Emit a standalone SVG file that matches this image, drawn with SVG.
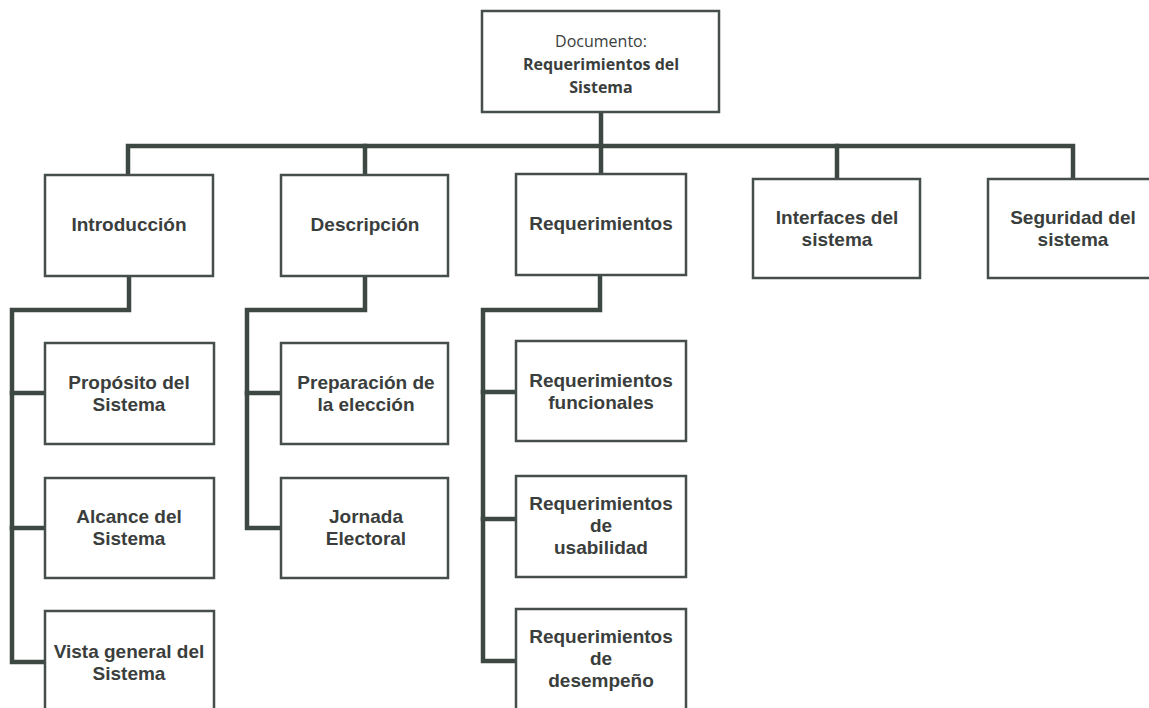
<svg xmlns="http://www.w3.org/2000/svg" width="1149" height="708" viewBox="0 0 1149 708">
<style>
.box{fill:#fff;stroke:#454e4a;stroke-width:2.5}
.con{fill:none;stroke:#3e4843;stroke-width:4.5;stroke-linejoin:miter;stroke-linecap:square}
.t{font-family:"Liberation Sans",Arial,sans-serif;font-weight:bold;font-size:19px;fill:#3a3e3c;text-anchor:middle}
.d{font-family:"Open Sans","Noto Sans",sans-serif;font-size:16px;fill:#3a3e3c;text-anchor:middle}
.db{font-weight:bold}
</style>
<rect width="1149" height="708" fill="#fff"/>
<g id="connectors">
<path class="con" d="M601 112 V174"/>
<path class="con" d="M128 175 V146 H1073 V179"/>
<path class="con" d="M365 146 V175"/>
<path class="con" d="M837 146 V179"/>
<path class="con" d="M129 276 V310 H12 V662 H45"/>
<path class="con" d="M12 393 H45 M12 528 H45"/>
<path class="con" d="M365 276 V310 H247 V528 H281"/>
<path class="con" d="M247 393 H281"/>
<path class="con" d="M600 275 V310 H483 V661 H516"/>
<path class="con" d="M483 392 H516 M483 519 H516"/>
</g>
<g id="root">
<rect class="box" x="482" y="11" width="237" height="101"/>
<text class="d" x="601" y="47">Documento:</text>
<text class="d db" x="601" y="70">Requerimientos del</text>
<text class="d db" x="601" y="93">Sistema</text>
</g>
<g id="introduccion">
<rect class="box" x="45" y="175" width="168" height="101"/>
<text class="t" x="129" y="231">Introducción</text>
</g>
<g id="descripcion">
<rect class="box" x="281" y="175" width="167" height="101"/>
<text class="t" x="365" y="231">Descripción</text>
</g>
<g id="requerimientos">
<rect class="box" x="516" y="174" width="170" height="101"/>
<text class="t" x="601" y="230">Requerimientos</text>
</g>
<g id="interfaces">
<rect class="box" x="753" y="179" width="167" height="99"/>
<text class="t" x="837" y="224">Interfaces del</text>
<text class="t" x="837" y="246">sistema</text>
</g>
<g id="seguridad">
<rect class="box" x="988" y="179" width="170" height="99"/>
<text class="t" x="1073" y="224">Seguridad del</text>
<text class="t" x="1073" y="246">sistema</text>
</g>
<g id="proposito">
<rect class="box" x="45" y="343" width="169" height="101"/>
<text class="t" x="129" y="389">Propósito del</text>
<text class="t" x="129" y="411">Sistema</text>
</g>
<g id="alcance">
<rect class="box" x="45" y="478" width="169" height="100"/>
<text class="t" x="129" y="523">Alcance del</text>
<text class="t" x="129" y="545">Sistema</text>
</g>
<g id="vista">
<rect class="box" x="45" y="611" width="169" height="110"/>
<text class="t" x="129" y="658">Vista general del</text>
<text class="t" x="129" y="680">Sistema</text>
</g>
<g id="preparacion">
<rect class="box" x="281" y="343" width="167" height="101"/>
<text class="t" x="366" y="389">Preparación de</text>
<text class="t" x="366" y="411">la elección</text>
</g>
<g id="jornada">
<rect class="box" x="281" y="478" width="167" height="100"/>
<text class="t" x="366" y="523">Jornada</text>
<text class="t" x="366" y="545">Electoral</text>
</g>
<g id="req-funcionales">
<rect class="box" x="516" y="341" width="170" height="100"/>
<text class="t" x="601" y="387">Requerimientos</text>
<text class="t" x="601" y="409">funcionales</text>
</g>
<g id="req-usabilidad">
<rect class="box" x="516" y="476" width="170" height="101"/>
<text class="t" x="601" y="510">Requerimientos</text>
<text class="t" x="601" y="532">de</text>
<text class="t" x="601" y="554">usabilidad</text>
</g>
<g id="req-desempeno">
<rect class="box" x="516" y="609" width="170" height="110"/>
<text class="t" x="601" y="643">Requerimientos</text>
<text class="t" x="601" y="665">de</text>
<text class="t" x="601" y="687">desempeño</text>
</g>
</svg>
